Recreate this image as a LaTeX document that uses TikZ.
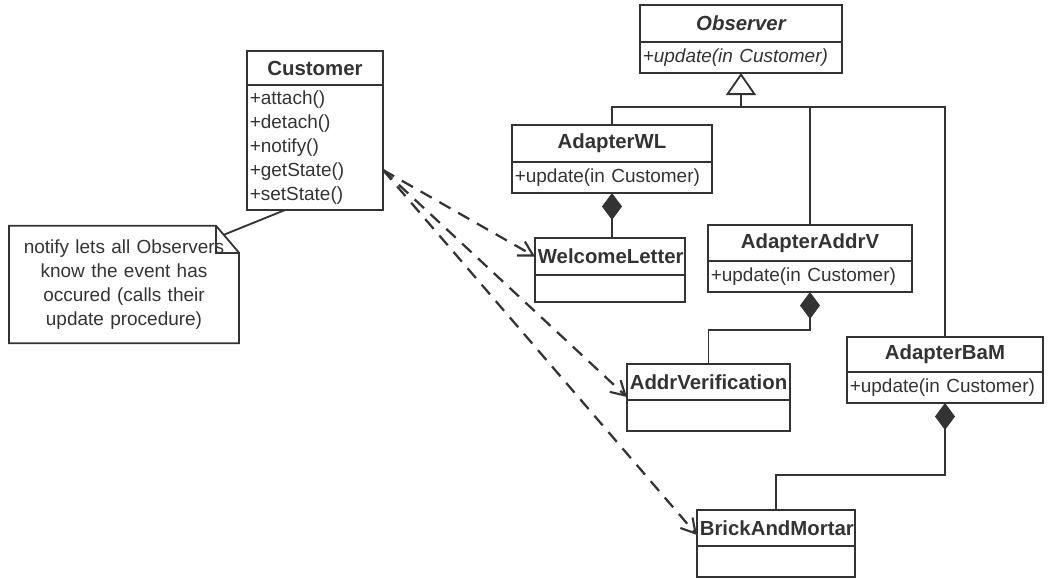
\documentclass[tikz,border=0pt]{standalone}
\usepackage{fontspec}
\setmainfont{Liberation Sans}
\usepackage{tikz}
\usetikzlibrary{positioning, arrows.meta, calc}
\definecolor{ink}{gray}{0.2}
\tikzset{
    line/.style={draw=ink, line width=1.3pt},
    ctitle/.style={draw=ink, line width=1.3pt, text=ink, outer sep=0pt, inner xsep=2pt, inner ysep=0pt, align=center, font=\fontsize{14.5}{17}\selectfont\bfseries},
    cbody/.style={draw=ink, line width=1.3pt, text=ink, outer sep=0pt, inner xsep=2pt, inner ysep=0pt, align=left, font=\fontsize{13.5}{17}\selectfont},
    dep/.style={-{Straight Barb[length=3.5mm, width=4mm, line width=1.5pt]}, dash pattern=on 3.2mm off 2.2mm, line width=1.6pt, ink}
}

\begin{document}
\begin{tikzpicture}[
    x=0.025cm, y=-0.025cm,
    comp/.style={line, {Diamond[length=0.675cm, width=0.5cm]}-},
    gen/.style={line, -{Triangle[open, length=0.55cm, width=0.75cm]}},
    notebox/.style={text=ink, align=center, text width=5.5cm, minimum height=2.925cm, font=\fontsize{13.5}{17}\selectfont}
]
    \useasboundingbox (0,0) rectangle (1054,579);

    % --- Subject ---
    \node[ctitle, text width=3.26cm, minimum height=0.85cm] (cust) at (315,68) {Customer};
    \node[cbody, text width=3.26cm, minimum height=3.125cm, below=0pt of cust] (custm)
        {+attach()\\+detach()\\+notify()\\+getState()\\+setState()};

    % --- Note ---
    \node[notebox] (note) at (124,284.5)
        {notify lets all Observers\\know the event has\\occured (calls their\\update procedure)};
    \draw[line] (note.north west) -- ($(note.north east)+(-23,0)$) -- ($(note.north east)+(0,27)$)
        -- (note.south east) -- (note.south west) -- cycle;
    \draw[line] ($(note.north east)+(-23,0)$) -- ($(note.north east)+(-23,27)$) -- ($(note.north east)+(0,27)$);
    \draw[line] ($(note.north east)+(-15,9)$) -- ($(custm.south west)+(38,0)$);

    % --- Observer ---
    \node[ctitle, text width=4.91cm, minimum height=0.925cm, font=\fontsize{14.5}{17}\selectfont\bfseries\itshape] (obs) at (741,23.5) {Observer};
    \node[cbody, text width=4.91cm, minimum height=0.775cm, below=0pt of obs, font=\fontsize{13.5}{17}\selectfont\itshape] (obsm)
        {+update(in Customer)};

    % --- Adapters ---
    \node[ctitle, text width=4.86cm, minimum height=0.925cm] (awl) at (612,143.5) {AdapterWL};
    \node[cbody, text width=4.86cm, minimum height=0.775cm, below=0pt of awl] (awlm) {+update(in Customer)};

    \node[ctitle, text width=4.96cm, minimum height=0.9cm] (aav) at (810,243) {AdapterAddrV};
    \node[cbody, text width=4.96cm, minimum height=0.775cm, below=0pt of aav] (aavm) {+update(in Customer)};

    \node[ctitle, text width=4.76cm, minimum height=0.875cm] (abam) at (945,354.5) {AdapterBaM};
    \node[cbody, text width=4.76cm, minimum height=0.775cm, below=0pt of abam] (abamm) {+update(in Customer)};

    % --- Adaptees ---
    \node[ctitle, text width=3.61cm, minimum height=0.925cm] (wl) at (610,256.5) {WelcomeLetter};
    \node[cbody, text width=3.61cm, minimum height=0.675cm, below=0pt of wl] (wlm) {};

    \node[ctitle, text width=3.935cm, minimum height=0.9cm] (av) at (708.5,382) {AddrVerification};
    \node[cbody, text width=3.935cm, minimum height=0.775cm, below=0pt of av] (avm) {};

    \node[ctitle, text width=3.81cm, minimum height=0.9cm] (bm) at (776,528) {BrickAndMortar};
    \node[cbody, text width=3.81cm, minimum height=0.775cm, below=0pt of bm] (bmm) {};

    % --- Generalization ---
    \coordinate (hub) at ($(obsm.south)+(0,34)$);
    \draw[gen] (hub) -- (obsm.south);
    \draw[line] (awl.north) |- (hub) -| (abam.north);
    \draw[line] (aav.north) -- (aav.north |- hub);

    % --- Composition ---
    \draw[comp] (awlm.south) -- (awlm.south |- wl.north);
    \draw[comp] (aavm.south) -- ++(0,38) -| (av.north);
    \draw[comp] (abamm.south) -- ++(0,72) -| (bm.north);

    % --- Dependencies ---
    \coordinate (src) at ($(custm.north east)+(0,85)$);
    \draw[dep] (src) -- (wl.west);
    \draw[dep] (src) -- ($(av.south west)+(0,-3)$);
    \draw[dep] (src) -- ($(bm.west)+(0,7)$);

\end{tikzpicture}
\end{document}
